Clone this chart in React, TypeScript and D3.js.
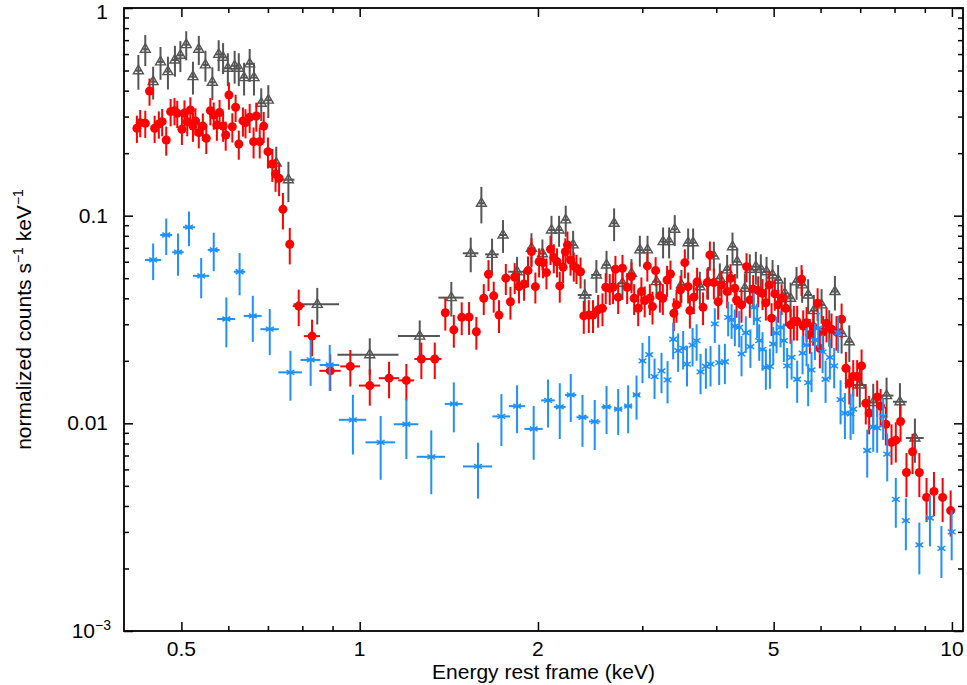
import React, { useEffect, useRef } from 'react';
import * as d3 from 'd3';

// spectra: energy (keV), normalized counts, x half-width (keV), fractional y error

const grayE = [0.423,0.4345,0.448,0.461,0.4745,0.4876,0.498,0.5095,0.523,0.535,0.549,0.564,0.578,0.588,0.599,0.615,0.625,0.638,0.652,0.663,0.682,0.701,0.723,0.758,0.848,1.04,1.263,1.428,1.54,1.605,1.673,1.746,1.844,1.95,2.035,2.108,2.171,2.228,2.293,2.399,2.51,2.611,2.689,2.778,2.877,2.972,3.062,3.171,3.253,3.33,3.404,3.494,3.586,3.656,3.753,3.877,3.963,4.056,4.173,4.261,4.339,4.47,4.558,4.666,4.757,4.864,4.979,5.088,5.223,5.34,5.466,5.586,5.718,5.846,6.024,6.206,6.345,6.512,6.71,6.99,7.364,7.756,8.17,8.66];
const grayF = [0.499,0.633,0.442,0.55,0.494,0.562,0.592,0.666,0.467,0.633,0.532,0.439,0.598,0.579,0.513,0.527,0.513,0.462,0.538,0.462,0.348,0.36,0.179,0.149,0.0374,0.0214,0.0263,0.0403,0.0659,0.1147,0.0651,0.0807,0.0537,0.0697,0.0656,0.0853,0.0853,0.0954,0.0723,0.0415,0.0518,0.0579,0.0919,0.0473,0.0528,0.0684,0.0684,0.0481,0.075,0.075,0.086,0.0464,0.0741,0.0741,0.0455,0.048,0.064,0.0499,0.0548,0.0709,0.06,0.0447,0.0552,0.0568,0.0552,0.0537,0.0518,0.049,0.0423,0.04,0.048,0.0464,0.0415,0.0349,0.0372,0.0292,0.0431,0.0271,0.0247,0.0153,0.0126,0.0136,0.0127,0.0085];
const grayDE = [0.005,0.005,0.005,0.005,0.005,0.006,0.006,0.006,0.006,0.006,0.006,0.007,0.007,0.007,0.007,0.007,0.007,0.008,0.008,0.008,0.008,0.008,0.009,0.018,0.075,0.123,0.103,0.07,0.047,0.02,0.044,0.027,0.062,0.03,0.03,0.025,0.025,0.025,0.025,0.065,0.05,0.04,0.03,0.05,0.04,0.035,0.035,0.05,0.035,0.035,0.035,0.05,0.045,0.045,0.05,0.05,0.05,0.055,0.055,0.055,0.055,0.06,0.06,0.06,0.06,0.065,0.065,0.07,0.07,0.07,0.075,0.075,0.08,0.08,0.085,0.085,0.09,0.09,0.1,0.19,0.17,0.21,0.22,0.3];
const grayRel = [0.19,0.17,0.18,0.18,0.18,0.17,0.17,0.16,0.18,0.16,0.17,0.18,0.17,0.17,0.18,0.18,0.18,0.18,0.18,0.18,0.18,0.18,0.2,0.22,0.2,0.2,0.19,0.19,0.19,0.2,0.19,0.18,0.18,0.18,0.17,0.17,0.17,0.17,0.17,0.19,0.18,0.17,0.18,0.17,0.17,0.17,0.17,0.17,0.17,0.17,0.17,0.18,0.17,0.17,0.18,0.18,0.17,0.18,0.18,0.17,0.17,0.18,0.18,0.18,0.18,0.18,0.18,0.18,0.19,0.19,0.18,0.18,0.19,0.19,0.19,0.2,0.19,0.2,0.2,0.22,0.23,0.22,0.23,0.24];

const redE = [0.4206,0.426,0.4345,0.4417,0.4506,0.458,0.464,0.4714,0.4795,0.4868,0.492,0.501,0.506,0.5115,0.5177,0.523,0.528,0.535,0.5435,0.5508,0.5596,0.567,0.574,0.58,0.588,0.594,0.6015,0.6095,0.6173,0.625,0.6352,0.6415,0.652,0.662,0.669,0.678,0.6886,0.7,0.712,0.721,0.731,0.742,0.762,0.789,0.831,0.892,0.9643,1.04,1.121,1.199,1.271,1.339,1.395,1.442,1.487,1.53,1.574,1.62,1.65,1.684,1.719,1.765,1.797,1.827,1.858,1.895,1.924,1.95,1.98,2.009,2.04,2.067,2.1,2.127,2.154,2.177,2.205,2.225,2.243,2.27,2.299,2.323,2.36,2.39,2.437,2.477,2.527,2.57,2.603,2.644,2.678,2.703,2.732,2.778,2.829,2.877,2.907,2.953,2.99,3.029,3.06,3.09,3.122,3.16,3.213,3.25,3.304,3.348,3.392,3.427,3.481,3.54,3.586,3.61,3.666,3.713,3.8,3.862,3.902,3.963,4.03,4.083,4.173,4.228,4.3,4.328,4.413,4.5,4.558,4.617,4.708,4.788,4.851,4.914,4.96,5.024,5.088,5.157,5.244,5.34,5.409,5.479,5.573,5.609,5.683,5.756,5.83,5.932,5.984,6.061,6.141,6.262,6.384,6.512,6.622,6.71,6.813,6.918,7.038,7.154,7.248,7.478,7.578,7.734,7.907,8.04,8.19,8.38,8.58,8.81,9.06,9.325,9.645,9.95];
const redF = [0.2635,0.2805,0.2786,0.398,0.2635,0.2763,0.2836,0.2315,0.3168,0.3203,0.311,0.2606,0.312,0.2836,0.323,0.27,0.286,0.251,0.27,0.2358,0.3203,0.305,0.273,0.314,0.27,0.2446,0.381,0.268,0.3326,0.2214,0.286,0.2805,0.2977,0.2272,0.302,0.2272,0.27,0.2033,0.1774,0.1588,0.1514,0.1073,0.0728,0.0367,0.0263,0.0179,0.0188,0.0152,0.0165,0.0161,0.0204,0.0204,0.0341,0.0282,0.0324,0.0325,0.0276,0.04,0.0522,0.0411,0.0332,0.05,0.0385,0.0505,0.0455,0.0469,0.0544,0.0671,0.0455,0.06,0.0594,0.0532,0.0689,0.0628,0.06,0.0459,0.0564,0.0671,0.0723,0.0612,0.0573,0.0558,0.0537,0.0329,0.0332,0.0332,0.0352,0.0358,0.0452,0.0447,0.0452,0.0552,0.0405,0.0558,0.0452,0.0509,0.04,0.0358,0.0431,0.039,0.0573,0.04,0.0365,0.0544,0.0411,0.04,0.049,0.0524,0.0339,0.0372,0.0439,0.0594,0.0455,0.0349,0.0405,0.048,0.0362,0.0476,0.0647,0.0476,0.0385,0.0464,0.0431,0.0499,0.0447,0.0393,0.0372,0.0568,0.0393,0.0442,0.0436,0.0423,0.0381,0.0464,0.0321,0.042,0.0372,0.04,0.0358,0.0298,0.0309,0.0309,0.0494,0.0294,0.0305,0.0267,0.0292,0.0379,0.023,0.0276,0.0303,0.0284,0.0276,0.0317,0.0184,0.0156,0.0168,0.0168,0.0189,0.0125,0.0112,0.0134,0.0121,0.0099,0.0081,0.0083,0.0102,0.0058,0.0073,0.0058,0.0044,0.0047,0.0044,0.0038];
const redDE = [0.004,0.004,0.004,0.004,0.004,0.004,0.004,0.004,0.004,0.004,0.004,0.004,0.004,0.004,0.004,0.004,0.004,0.004,0.004,0.004,0.005,0.005,0.005,0.005,0.005,0.005,0.005,0.005,0.005,0.005,0.005,0.005,0.005,0.005,0.005,0.005,0.005,0.005,0.005,0.005,0.006,0.008,0.01,0.018,0.026,0.037,0.037,0.043,0.044,0.037,0.034,0.035,0.022,0.02,0.02,0.02,0.02,0.02,0.015,0.015,0.015,0.015,0.015,0.015,0.015,0.015,0.015,0.015,0.015,0.015,0.015,0.015,0.015,0.015,0.015,0.015,0.015,0.015,0.015,0.015,0.018,0.018,0.018,0.018,0.018,0.018,0.018,0.018,0.018,0.018,0.018,0.018,0.018,0.018,0.018,0.018,0.018,0.018,0.018,0.018,0.02,0.02,0.02,0.02,0.02,0.02,0.02,0.02,0.02,0.02,0.022,0.022,0.022,0.022,0.022,0.022,0.022,0.022,0.022,0.022,0.025,0.025,0.025,0.025,0.025,0.025,0.025,0.025,0.025,0.025,0.028,0.028,0.028,0.028,0.028,0.028,0.028,0.028,0.028,0.028,0.03,0.03,0.03,0.03,0.03,0.03,0.03,0.03,0.03,0.03,0.035,0.035,0.04,0.04,0.04,0.04,0.045,0.045,0.045,0.06,0.06,0.06,0.06,0.07,0.07,0.07,0.07,0.08,0.08,0.08,0.09,0.09,0.1,0.1];
const redRel = [0.15,0.15,0.15,0.15,0.15,0.15,0.15,0.16,0.15,0.15,0.15,0.16,0.15,0.15,0.15,0.16,0.15,0.16,0.15,0.16,0.15,0.15,0.16,0.15,0.16,0.16,0.15,0.16,0.15,0.16,0.16,0.16,0.16,0.17,0.16,0.17,0.17,0.17,0.18,0.18,0.18,0.2,0.2,0.2,0.2,0.2,0.2,0.2,0.2,0.2,0.2,0.2,0.18,0.18,0.18,0.18,0.18,0.17,0.17,0.17,0.18,0.17,0.18,0.17,0.17,0.17,0.17,0.16,0.17,0.16,0.16,0.17,0.16,0.16,0.16,0.17,0.16,0.16,0.16,0.16,0.16,0.16,0.17,0.18,0.18,0.18,0.18,0.18,0.17,0.17,0.17,0.16,0.17,0.16,0.17,0.17,0.17,0.18,0.17,0.17,0.16,0.17,0.18,0.16,0.17,0.17,0.17,0.16,0.18,0.18,0.17,0.16,0.17,0.18,0.17,0.17,0.18,0.17,0.16,0.17,0.18,0.17,0.17,0.17,0.17,0.18,0.18,0.16,0.18,0.17,0.17,0.17,0.18,0.17,0.18,0.17,0.18,0.17,0.18,0.19,0.19,0.19,0.17,0.19,0.19,0.19,0.19,0.18,0.2,0.19,0.19,0.19,0.19,0.19,0.2,0.21,0.2,0.2,0.2,0.21,0.21,0.2,0.21,0.21,0.22,0.22,0.2,0.24,0.22,0.24,0.24,0.24,0.24,0.25];

const blueE = [0.448,0.4714,0.4935,0.515,0.54,0.567,0.5955,0.627,0.66,0.705,0.764,0.8265,0.89,0.974,1.085,1.199,1.321,1.442,1.584,1.735,1.844,1.967,2.08,2.177,2.272,2.378,2.494,2.611,2.732,2.84,2.934,3.003,3.082,3.147,3.233,3.31,3.383,3.449,3.517,3.57,3.648,3.706,3.763,3.842,3.912,3.978,4.046,4.137,4.19,4.246,4.3,4.373,4.413,4.487,4.568,4.629,4.69,4.727,4.788,4.851,4.928,4.992,5.057,5.136,5.203,5.27,5.362,5.479,5.595,5.683,5.718,5.794,5.87,5.946,6.048,6.119,6.222,6.327,6.426,6.486,6.596,6.744,6.813,7.194,7.364,7.478,7.654,7.776,8.04,8.36,8.81,9.18,9.6,9.99];
const blueF = [0.0612,0.0807,0.0667,0.088,0.0513,0.0684,0.0318,0.0537,0.0329,0.0284,0.0176,0.0202,0.0191,0.0104,0.0081,0.0099,0.0069,0.0124,0.0062,0.0108,0.0121,0.0094,0.0129,0.012,0.0137,0.0107,0.0102,0.012,0.0117,0.0121,0.0137,0.02,0.0214,0.0168,0.0179,0.0162,0.0254,0.0224,0.023,0.0193,0.0238,0.025,0.0177,0.0188,0.0193,0.0301,0.0196,0.0198,0.0324,0.0315,0.0294,0.029,0.0216,0.0273,0.0234,0.0362,0.0317,0.025,0.0227,0.0186,0.0188,0.0241,0.0272,0.029,0.025,0.0189,0.0208,0.0163,0.0218,0.0238,0.0157,0.0181,0.0252,0.0287,0.0221,0.0163,0.0208,0.0189,0.0273,0.013,0.0112,0.0111,0.0117,0.0074,0.0096,0.0095,0.0108,0.0071,0.0043,0.0034,0.0026,0.0035,0.0025,0.003];
const blueDE = [0.014,0.011,0.011,0.012,0.017,0.013,0.021,0.014,0.023,0.025,0.035,0.032,0.034,0.052,0.062,0.057,0.073,0.05,0.09,0.06,0.058,0.07,0.055,0.05,0.05,0.055,0.055,0.05,0.045,0.045,0.04,0.03,0.03,0.03,0.03,0.03,0.03,0.03,0.03,0.03,0.03,0.03,0.035,0.035,0.035,0.035,0.035,0.035,0.035,0.035,0.04,0.04,0.04,0.04,0.04,0.04,0.04,0.04,0.04,0.04,0.045,0.045,0.045,0.045,0.045,0.045,0.045,0.05,0.05,0.05,0.05,0.05,0.05,0.05,0.05,0.055,0.055,0.055,0.055,0.06,0.06,0.06,0.06,0.07,0.07,0.07,0.07,0.07,0.07,0.08,0.09,0.08,0.09,0.09];
const blueRel = [0.2,0.2,0.23,0.19,0.22,0.21,0.27,0.23,0.25,0.25,0.27,0.25,0.25,0.32,0.34,0.32,0.34,0.27,0.3,0.28,0.26,0.29,0.26,0.3,0.26,0.28,0.27,0.26,0.25,0.26,0.24,0.22,0.23,0.22,0.22,0.23,0.2,0.21,0.21,0.22,0.21,0.2,0.22,0.22,0.22,0.19,0.22,0.22,0.19,0.19,0.2,0.2,0.22,0.2,0.21,0.18,0.19,0.2,0.21,0.22,0.22,0.21,0.2,0.2,0.21,0.22,0.22,0.23,0.21,0.21,0.23,0.22,0.2,0.2,0.21,0.23,0.22,0.22,0.2,0.24,0.25,0.25,0.24,0.26,0.24,0.24,0.23,0.26,0.27,0.28,0.28,0.27,0.28,0.27];

const xMajor = [0.5, 1, 2, 5, 10];
const xMinor = [0.6, 0.7, 0.8, 0.9, 3, 4, 6, 7, 8, 9];
const yMajor = [0.001, 0.01, 0.1, 1];
const yMinor = [0.002,0.003,0.004,0.005,0.006,0.007,0.008,0.009,0.02,0.03,0.04,0.05,0.06,0.07,0.08,0.09,0.2,0.3,0.4,0.5,0.6,0.7,0.8,0.9];
const yLabels = ['10', '0.01', '0.1', '1'];

const FONT = '"Liberation Sans", Arial, Helvetica, sans-serif';

export default function App() {
  const ref = useRef<SVGSVGElement>(null);

  useEffect(() => {
    const svg = d3.select(ref.current);
    svg.selectAll('*').remove();

    const left = 124, right = 963, top = 8, bottom = 631;
    const x = d3.scaleLog().domain([0.4, 10.44]).range([left, right]);
    const y = d3.scaleLog().domain([0.001, 1]).range([bottom, top]);

    svg.append('defs').append('clipPath').attr('id', 'plotclip')
      .append('rect').attr('x', left).attr('y', top).attr('width', right - left).attr('height', bottom - top);

    const series = [
      { e: grayE, f: grayF, de: grayDE, rel: grayRel, color: '#555555', kind: 'tri' },
      { e: redE, f: redF, de: redDE, rel: redRel, color: '#ff0000', kind: 'dot' },
      { e: blueE, f: blueF, de: blueDE, rel: blueRel, color: '#1e90ff', kind: 'star' }
    ];

    const plot = svg.append('g').attr('clip-path', 'url(#plotclip)');
    series.forEach((s) => {
      const g = plot.append('g').attr('stroke', s.color).attr('stroke-width', 2).attr('fill', 'none');
      s.e.forEach((e, i) => {
        const cx = x(e);
        const cy = y(s.f[i]);
        g.append('line').attr('x1', x(e - s.de[i])).attr('x2', x(e + s.de[i])).attr('y1', cy).attr('y2', cy);
        g.append('line').attr('x1', cx).attr('x2', cx)
          .attr('y1', y(s.f[i] * (1 + s.rel[i]))).attr('y2', y(s.f[i] * (1 - s.rel[i])));
        if (s.kind === 'tri') {
          g.append('path').attr('stroke-width', 1.4)
            .attr('d', `M${cx - 5},${cy + 3} L${cx + 5},${cy + 3} L${cx},${cy - 5.5} Z`);
        } else if (s.kind === 'dot') {
          g.append('circle').attr('cx', cx).attr('cy', cy).attr('r', 4.5).attr('fill', s.color).attr('stroke', 'none');
        } else {
          [30, 150].forEach((a) => {
            const r = (a * Math.PI) / 180;
            g.append('line').attr('stroke-width', 1.5)
              .attr('x1', cx - 4.5 * Math.cos(r)).attr('y1', cy - 4.5 * Math.sin(r))
              .attr('x2', cx + 4.5 * Math.cos(r)).attr('y2', cy + 4.5 * Math.sin(r));
          });
        }
      });
    });

    // ticks on all four sides, pointing inward
    const axes = svg.append('g').attr('font-family', FONT);
    const addTicks = (axis: any, tr: string, vals: number[], size: number) => {
      const a = axes.append('g').attr('transform', tr)
        .call(axis.tickValues(vals).tickSize(-size).tickSizeOuter(0).tickFormat(() => ''));
      a.select('.domain').remove();
      a.selectAll('line').attr('stroke', '#000').attr('stroke-width', 1.5);
    };
    addTicks(d3.axisBottom(x), `translate(0,${bottom})`, xMajor, 9);
    addTicks(d3.axisBottom(x), `translate(0,${bottom})`, xMinor, 5);
    addTicks(d3.axisTop(x), `translate(0,${top})`, xMajor, 9);
    addTicks(d3.axisTop(x), `translate(0,${top})`, xMinor, 5);
    addTicks(d3.axisLeft(y), `translate(${left},0)`, yMajor, 9);
    addTicks(d3.axisLeft(y), `translate(${left},0)`, yMinor, 5);
    addTicks(d3.axisRight(y), `translate(${right},0)`, yMajor, 9);
    addTicks(d3.axisRight(y), `translate(${right},0)`, yMinor, 5);

    axes.append('rect').attr('x', left).attr('y', top).attr('width', right - left).attr('height', bottom - top)
      .attr('fill', 'none').attr('stroke', '#000').attr('stroke-width', 1.8);

    // tick labels
    axes.selectAll('text.xl').data(xMajor).enter().append('text')
      .attr('x', (d) => x(d)).attr('y', 656).attr('text-anchor', 'middle')
      .attr('font-size', 21).text((d) => String(d));

    yMajor.forEach((v, i) => {
      const baseY = v === 1 ? 19 : y(v) + 7;
      const t = axes.append('text').attr('x', 108).attr('y', baseY).attr('text-anchor', 'end').attr('font-size', 21);
      if (v === 0.001) {
        t.attr('x', 111);
        t.append('tspan').text(yLabels[i]);
        t.append('tspan').attr('font-size', 14).attr('dy', -8).text('\u22123');
      } else {
        t.text(yLabels[i]);
      }
    });

    // axis titles
    axes.append('text').attr('x', (left + right) / 2).attr('y', 679).attr('text-anchor', 'middle')
      .attr('font-size', 21).text('Energy rest frame (keV)');

    const yt = axes.append('text').attr('transform', `translate(31,${(top + bottom) / 2}) rotate(-90)`)
      .attr('text-anchor', 'middle').attr('font-size', 21);
    yt.append('tspan').text('normalized counts s');
    yt.append('tspan').attr('font-size', 14).attr('dy', -8).text('\u22121');
    yt.append('tspan').attr('dy', 8).text(' keV');
    yt.append('tspan').attr('font-size', 14).attr('dy', -8).text('\u22121');
  }, []);

  return (
    <svg ref={ref} width={967} height={685} style={{ position: 'absolute', left: 0, top: 0, background: '#fff' }} />
  );
}
